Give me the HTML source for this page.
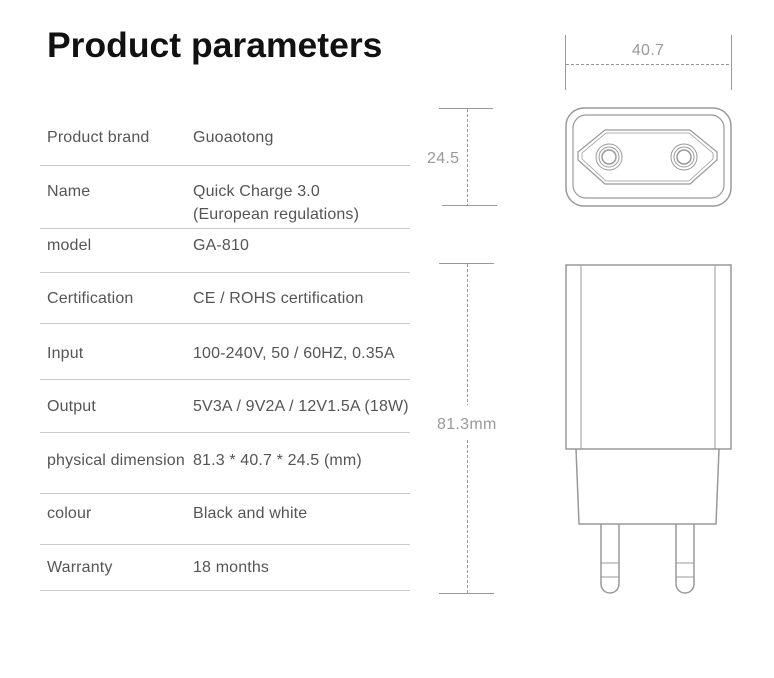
<!DOCTYPE html>
<html><head><meta charset="utf-8"><style>
html,body{margin:0;padding:0;background:#fff;}
svg{display:block;font-family:"Liberation Sans",Arial,sans-serif;}
.t{font-size:16px;fill:#555;letter-spacing:0.15px;}
.d{font-size:16px;fill:#999;letter-spacing:0.3px;}
</style></head><body>
<svg width="774" height="678" viewBox="0 0 774 678" xmlns="http://www.w3.org/2000/svg">
<text x="47" y="57" font-size="35.5" font-weight="bold" fill="#111">Product parameters</text>
<g stroke="#ccc" stroke-width="1">
<line x1="40" y1="165.5" x2="410" y2="165.5"/>
<line x1="40" y1="228.5" x2="410" y2="228.5"/>
<line x1="40" y1="272.5" x2="410" y2="272.5"/>
<line x1="40" y1="323.5" x2="410" y2="323.5"/>
<line x1="40" y1="379.5" x2="410" y2="379.5"/>
<line x1="40" y1="432.5" x2="410" y2="432.5"/>
<line x1="40" y1="493.5" x2="410" y2="493.5"/>
<line x1="40" y1="544.5" x2="410" y2="544.5"/>
<line x1="40" y1="590.5" x2="410" y2="590.5"/>
</g>
<g class="t">
<text x="47" y="142">Product brand</text><text x="193" y="142">Guoaotong</text>
<text x="47" y="196">Name</text><text x="193" y="196">Quick Charge 3.0</text>
<text x="193" y="219">(European regulations)</text>
<text x="47" y="250">model</text><text x="193" y="250">GA-810</text>
<text x="47" y="303">Certification</text><text x="193" y="303">CE / ROHS certification</text>
<text x="47" y="358">Input</text><text x="193" y="358">100-240V, 50 / 60HZ, 0.35A</text>
<text x="47" y="411">Output</text><text x="193" y="411">5V3A / 9V2A / 12V1.5A (18W)</text>
<text x="47" y="465">physical dimension</text><text x="193" y="465">81.3 * 40.7 * 24.5 (mm)</text>
<text x="47" y="518">colour</text><text x="193" y="518">Black and white</text>
<text x="47" y="572">Warranty</text><text x="193" y="572">18 months</text>
</g>
<g stroke="#999" stroke-width="1" fill="none">
<line x1="565.5" y1="35" x2="565.5" y2="90"/>
<line x1="731.5" y1="35" x2="731.5" y2="90"/>
<line x1="566" y1="64.5" x2="731" y2="64.5" stroke-dasharray="3,2"/>
<line x1="439" y1="108.5" x2="493" y2="108.5"/>
<line x1="442" y1="205.5" x2="497" y2="205.5"/>
<line x1="467.5" y1="109" x2="467.5" y2="205" stroke-dasharray="3,2"/>
<line x1="439" y1="263.5" x2="494" y2="263.5"/>
<line x1="439" y1="593.5" x2="494" y2="593.5"/>
<line x1="467.5" y1="264" x2="467.5" y2="405" stroke-dasharray="3,2"/>
<line x1="467.5" y1="440" x2="467.5" y2="593" stroke-dasharray="3,2"/>
</g>
<text class="d" x="648" y="55" text-anchor="middle">40.7</text>
<text class="d" x="427" y="163">24.5</text>
<text class="d" x="437" y="429">81.3mm</text>
<g stroke="#999" stroke-width="1.5" fill="none">
<rect x="566" y="108" width="165" height="98" rx="18"/>
<rect x="573" y="115" width="151" height="83" rx="13" stroke-width="1.2"/>
<path d="M605 130 L690 130 L717 152 L717 160 L690 184 L605 184 L578 160 L578 152 Z" stroke-width="1.2"/>
<path d="M606 133 L689 133 L713 153 L713 159 L689 181 L606 181 L582 159 L582 153 Z" stroke-width="0.8"/>
<circle cx="609" cy="157" r="13" stroke-width="1"/>
<circle cx="609" cy="157" r="10" stroke-width="1"/>
<circle cx="609" cy="157" r="7" stroke-width="1.5"/>
<circle cx="684" cy="157" r="13" stroke-width="1"/>
<circle cx="684" cy="157" r="10" stroke-width="1"/>
<circle cx="684" cy="157" r="7" stroke-width="1.5"/>
</g>
<g stroke="#999" stroke-width="1.5" fill="none">
<rect x="566" y="265" width="165" height="184"/>
<line x1="581" y1="266" x2="581" y2="449" stroke-width="1"/>
<line x1="715" y1="266" x2="715" y2="449" stroke-width="1"/>
<path d="M576 449 L579 524 L716 524 L719 449"/>
<path d="M601 524 L601 584 A9 9 0 0 0 619 584 L619 524"/>
<path d="M676 524 L676 584 A9 9 0 0 0 694 584 L694 524"/>
<line x1="601" y1="563" x2="619" y2="563" stroke-width="1"/>
<line x1="601" y1="577" x2="619" y2="577" stroke-width="1"/>
<line x1="676" y1="563" x2="694" y2="563" stroke-width="1"/>
<line x1="676" y1="577" x2="694" y2="577" stroke-width="1"/>
</g>
</svg>
</body></html>
